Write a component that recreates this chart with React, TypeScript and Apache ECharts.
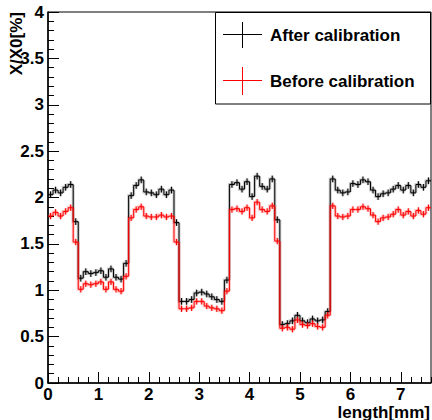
import React, { useEffect, useRef } from "react";
import * as echarts from "echarts";

const BIN = 0.1;
const afterCal = [
  2.03, 2.08, 2.05, 2.11, 2.14, 1.74,
  1.13, 1.2, 1.18, 1.19, 1.21, 1.14, 1.23, 1.14, 1.12, 1.29,
  2.02, 2.13, 2.19, 2.06, 2.05, 2.03, 2.09, 2.03, 2.08, 1.73,
  0.88, 0.88, 0.9, 0.97, 0.98, 0.96, 0.93, 0.9, 0.88, 1.11,
  2.14, 2.16, 2.09, 2.17, 2.01, 2.23, 2.12, 2.09, 2.2, 1.76,
  0.63, 0.64, 0.67, 0.73, 0.67, 0.65, 0.69, 0.67, 0.68, 0.77,
  2.2, 2.08, 2.05, 2.06, 2.15, 2.14, 2.19, 2.17, 2.08, 2.01,
  2.04, 2.05, 2.09, 2.13, 2.08, 2.13, 2.05, 2.14, 2.11, 2.18,
];
const beforeCal = [
  1.8, 1.84, 1.8, 1.85, 1.89, 1.52,
  1.01, 1.07, 1.06, 1.07, 1.09, 1.01, 1.09, 1.01, 0.99, 1.15,
  1.78, 1.87, 1.9, 1.8, 1.79, 1.79, 1.81, 1.79, 1.8, 1.52,
  0.8, 0.8, 0.81, 0.88, 0.88, 0.83, 0.81, 0.8, 0.78, 0.99,
  1.87, 1.88, 1.85, 1.89, 1.78, 1.95, 1.87, 1.85, 1.91, 1.53,
  0.59, 0.6, 0.58, 0.68, 0.63, 0.62, 0.64, 0.61, 0.6, 0.73,
  1.91, 1.8, 1.79, 1.8, 1.87, 1.87, 1.9, 1.88, 1.81, 1.74,
  1.78, 1.79, 1.82, 1.87, 1.81, 1.85, 1.8, 1.86, 1.82, 1.89,
];
const afterErr = 0.036;
const beforeErr = 0.034;
const seriesNames = ["After calibration", "Before calibration"];
const xTitle = "length[mm]";
const yTitle = "X/X0[%]";

const FONT = "Liberation Sans, Arial, Helvetica, sans-serif";

function toData(vals: number[]) {
  return vals.map((v, i) => [i * BIN, v, i === 0 ? v : vals[i - 1]]);
}

function makeSeries(name: string, vals: number[], err: number, color: string, halo: string) {
  return {
    type: "custom",
    name,
    xAxisIndex: 0,
    yAxisIndex: 0,
    encode: { x: 0, y: 1 },
    data: toData(vals),
    renderItem: (params: any, api: any) => {
      const x0 = api.value(0);
      const v = api.value(1);
      const prev = api.value(2);
      const c = api.coord([x0, prev]);
      const a = api.coord([x0, v]);
      const b = api.coord([x0 + BIN, v]);
      const m = x0 + BIN / 2;
      const et = api.coord([m, v + err]);
      const eb = api.coord([m, v - err]);
      const pts = [c, a, b];
      return {
        type: "group",
        children: [
          { type: "polyline", shape: { points: pts }, style: { stroke: halo, lineWidth: 3, fill: "none" } },
          { type: "line", shape: { x1: et[0], y1: et[1], x2: eb[0], y2: eb[1] }, style: { stroke: halo, lineWidth: 3 } },
          { type: "polyline", shape: { points: pts }, style: { stroke: color, lineWidth: 1, fill: "none" } },
          { type: "line", shape: { x1: et[0], y1: et[1], x2: eb[0], y2: eb[1] }, style: { stroke: color, lineWidth: 1 } },
        ],
      };
    },
  };
}

export default function App() {
  const ref = useRef<HTMLDivElement>(null);
  useEffect(() => {
    document.body.style.margin = "0";
    const chart = echarts.init(ref.current!, null, { renderer: "svg" });
    const labelStyle = { fontFamily: FONT, fontWeight: "bold", fontSize: 17, color: "#000" };
    const option: any = {
      animation: false,
      backgroundColor: "#fff",
      grid: { left: 48, right: 1, top: 12, bottom: 37, show: true, borderColor: "#000", borderWidth: 1 },
      xAxis: [
        {
          type: "value", min: 0, max: 7.6, interval: 1, position: "bottom",
          axisLine: { show: true, onZero: false, lineStyle: { color: "#000", width: 1.5 } },
          axisTick: { show: true, inside: true, length: 11, lineStyle: { color: "#000" } },
          axisLabel: { ...labelStyle, margin: 3, lineHeight: 17, showMaxLabel: false },
          splitLine: { show: false },
        },
        {
          type: "value", min: 0, max: 7.6, interval: 0.2, position: "bottom",
          axisLine: { show: false, onZero: false },
          axisTick: { show: true, inside: true, length: 6, lineStyle: { color: "#000" } },
          axisLabel: { show: false },
          splitLine: { show: false },
        },
      ],
      yAxis: [
        {
          type: "value", min: 0, max: 4, interval: 0.5, position: "left",
          axisLine: { show: true, onZero: false, lineStyle: { color: "#000", width: 1.5 } },
          axisTick: { show: true, inside: true, length: 11, lineStyle: { color: "#000" } },
          axisLabel: { ...labelStyle, margin: 4 },
          splitLine: { show: false },
        },
        {
          type: "value", min: 0, max: 4, interval: 0.1, position: "left",
          axisLine: { show: false, onZero: false },
          axisTick: { show: true, inside: true, length: 6, lineStyle: { color: "#000" } },
          axisLabel: { show: false },
          splitLine: { show: false },
        },
      ],
      series: [
        makeSeries(seriesNames[0], afterCal, afterErr, "#000000", "rgba(0,0,0,0.2)"),
        makeSeries(seriesNames[1], beforeCal, beforeErr, "#ff0000", "rgba(255,0,0,0.22)"),
      ],
      graphic: [
        {
          type: "rect", z: 100,
          shape: { x: 215.5, y: 12.5, width: 215, height: 91.5 },
          style: { fill: "#fff", stroke: "#000", lineWidth: 1 },
        },
        { type: "line", z: 101, shape: { x1: 223, y1: 34.5, x2: 262, y2: 34.5 }, style: { stroke: "#000", lineWidth: 1 } },
        { type: "line", z: 101, shape: { x1: 242.5, y1: 22, x2: 242.5, y2: 48 }, style: { stroke: "#000", lineWidth: 1 } },
        { type: "line", z: 101, shape: { x1: 223, y1: 80.5, x2: 262, y2: 80.5 }, style: { stroke: "#ff0000", lineWidth: 1 } },
        { type: "line", z: 101, shape: { x1: 242.5, y1: 67, x2: 242.5, y2: 95 }, style: { stroke: "#ff0000", lineWidth: 1 } },
        {
          type: "text", z: 101, x: 270, y: 35,
          style: { text: seriesNames[0], fontFamily: FONT, fontWeight: "bold", fontSize: 17, fill: "#000", align: "left", verticalAlign: "middle" },
        },
        {
          type: "text", z: 101, x: 270, y: 81,
          style: { text: seriesNames[1], fontFamily: FONT, fontWeight: "bold", fontSize: 17, fill: "#000", align: "left", verticalAlign: "middle" },
        },
        {
          type: "text", z: 101, x: 430, y: 412,
          style: { text: xTitle, fontFamily: FONT, fontWeight: "bold", fontSize: 17, lineHeight: 16, fill: "#000", align: "right", verticalAlign: "middle" },
        },
        {
          type: "text", z: 101, x: 16, y: 12, rotation: Math.PI / 2,
          style: { text: yTitle, fontFamily: FONT, fontWeight: "bold", fontSize: 17, fill: "#000", align: "right", verticalAlign: "middle" },
        },
      ],
    };
    chart.setOption(option);
    return () => chart.dispose();
  }, []);
  return <div ref={ref} style={{ width: 432, height: 420 }} />;
}
